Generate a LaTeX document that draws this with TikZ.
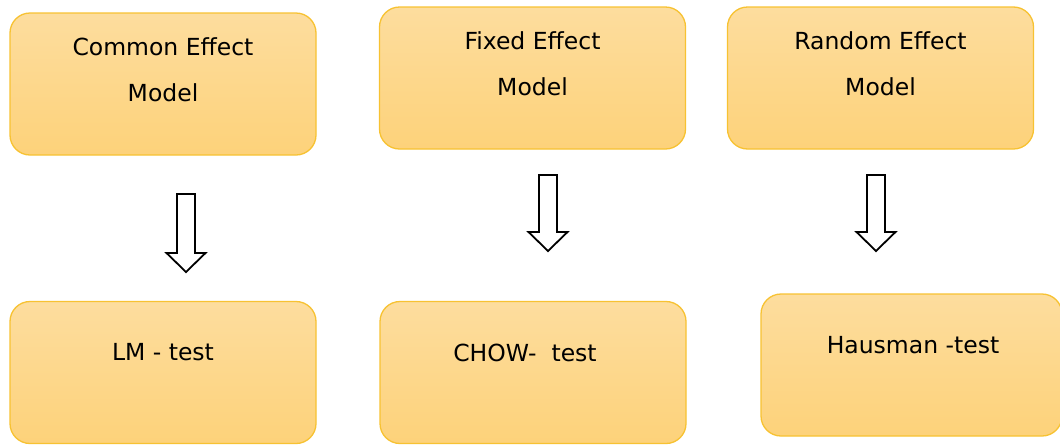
\documentclass[tikz,border=0pt]{standalone}
\usepackage{fontspec}
\setmainfont{DejaVu Sans}
\definecolor{boxtop}{HTML}{FDDD9E}
\definecolor{boxbot}{HTML}{FDD27A}
\definecolor{boxline}{HTML}{F7C232}
\begin{document}
\begin{tikzpicture}[x=1pt,y=-1pt,
  box/.style={draw=boxline, line width=1.3pt, rounded corners=20pt, top color=boxtop, bottom color=boxbot, minimum width=306pt, minimum height=142pt, inner sep=0pt},
  lbl/.style={font=\fontsize{23.5}{46}\selectfont, align=center, text=black, inner sep=0pt},
  blockarrow/.style={draw=black, line width=1.8pt, fill=white, line join=miter}]
\useasboundingbox (0,0) rectangle (1060,445);
% top boxes
\node[box] (b1) at (163,84) {};
\node[box] (b2) at (532.5,78) {};
\node[box] (b3) at (880.5,78) {};
% bottom boxes
\node[box] (b4) at (163,372.5) {};
\node[box] (b5) at (533,372.5) {};
\node[box, minimum width=301pt] (b6) at (911.5,365) {};
% labels
\node[lbl] (t1) at (163,70) {Common Effect\\Model};
\node[lbl] (t2) at (532.5,64) {Fixed Effect\\Model};
\node[lbl] (t3) at (880.5,64) {Random Effect\\Model};
\node[lbl] (t4) at (163,352) {LM - test};
\node[lbl] (t5) at (525,353) {CHOW-\ \ test};
\node[lbl] (t6) at (913,345) {Hausman -test};
% block arrows
\coordinate (a1) at (186,194);
\coordinate (a2) at (548,175);
\coordinate (a3) at (876,175);
\foreach \c/\len in {a1/59, a2/57, a3/57}{
  \draw[blockarrow] (\c) ++(-9,0) -- ++(0,\len) -- ++(-10.5,0) -- ++(19.5,19) -- ++(19.5,-19) -- ++(-10.5,0) -- ++(0,-\len) -- cycle;
}
\end{tikzpicture}
\end{document}
